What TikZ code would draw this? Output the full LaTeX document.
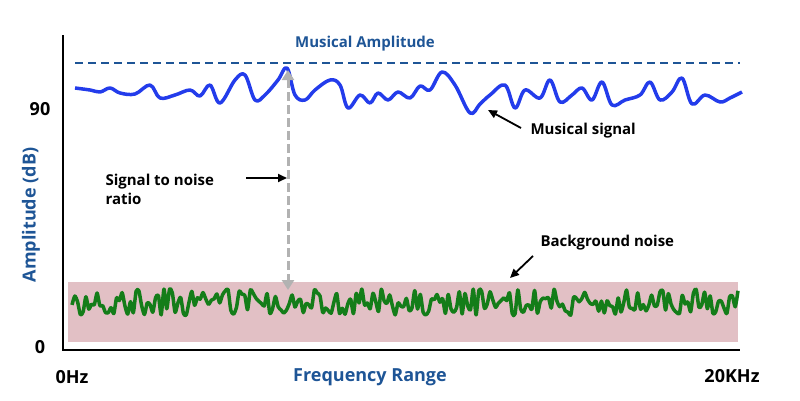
\documentclass[tikz,border=0pt]{standalone}
\usepackage{fontspec}
\setmainfont{Open Sans}
\usetikzlibrary{arrows.meta}
\definecolor{axisblue}{RGB}{30,85,150}
\definecolor{sigblue}{RGB}{35,60,235}
\definecolor{noisegreen}{RGB}{20,125,25}
\definecolor{noisepink}{RGB}{226,192,197}

\begin{document}
\begin{tikzpicture}[x=1pt, y=-1pt,
    lbl/.style={font=\fontsize{15}{19}\selectfont\bfseries},
    axlbl/.style={font=\fontsize{18}{22}\selectfont\bfseries},
    ptr/.style={-{Triangle[length=9pt,width=8pt]}, line width=1.8pt}]
    \useasboundingbox (0,0) rectangle (800,400);
    \pgfmathsetseed{7}
    % Noise band
    \fill[noisepink] (68,282) rectangle (738,342);
    % Axes
    \draw[line width=2.5pt] (63,35) -- (63,350) -- (740,350);
    \draw[axisblue, line width=2.5pt, dash pattern=on 8pt off 5pt] (75,63) -- (740,63);
    % Musical signal
    \draw[sigblue, line width=3.5pt, line join=round] plot[smooth, tension=0.6] coordinates {
      (75,88)(90,90)(100,92)(110,88)(120,93)(135,94)(150,85)(160,98)(175,95)(190,90)(200,96)
      (210,85)(220,103)(235,80)(245,75)(255,100)(265,95)(278,80)(287,68)(295,95)(305,100)
      (315,90)(330,80)(340,85)(348,108)(360,95)(370,103)(378,93)(388,100)(398,92)(410,98)
      (420,86)(430,90)(442,72)(455,85)(470,113)(480,104)(490,95)(505,85)(515,108)(525,90)
      (540,98)(550,80)(560,102)(572,95)(582,88)(592,100)(602,82)(612,105)(625,100)(640,95)
      (650,82)(660,100)(672,92)(682,78)(692,104)(705,95)(720,102)(730,98)(742,92)};
    % Background noise
    \draw[noisegreen, line width=3.5pt, line join=round] plot[smooth, tension=0.4, domain=72:738, samples=240]
      (\x, {302 + 13*rand});
    % Signal to noise ratio
    \coordinate (top) at (288,70);
    \coordinate (bot) at (288,290);
    \draw[black!30, line width=3pt, dash pattern=on 9pt off 4pt,
      {Triangle[length=10pt,width=12pt]}-{Triangle[length=10pt,width=12pt]}] (top) -- (bot);
    \node[lbl, align=left, anchor=west] (snr) at (102,189) {Signal to noise\\ratio};
    \coordinate (snrend) at (287,178);
    \draw[ptr] (246,178) -- (snrend);
    % Labels
    \node[lbl, text=axisblue] (amp) at (365,44) {Musical Amplitude};
    \node[lbl, anchor=west] (sig) at (527,131) {Musical signal};
    \coordinate (sigtip) at (488,110);
    \draw[ptr] (521,128) -- (sigtip);
    \node[lbl, anchor=west] (bg) at (537,243) {Background noise};
    \coordinate (bgtip) at (510,278);
    \draw[ptr] (533,256) -- (bgtip);
    \node[axlbl] (ninety) at (40,109) {90};
    \node[axlbl] (zero) at (40,347) {0};
    \node[axlbl] (hz) at (72,377) {0Hz};
    \node[axlbl] (khz) at (732,376) {20KHz};
    \node[axlbl, text=axisblue] (freq) at (370,377) {Frequency Range};
    \node[axlbl, text=axisblue, rotate=90] (ampdb) at (31,215) {Amplitude (dB)};
\end{tikzpicture}
\end{document}
